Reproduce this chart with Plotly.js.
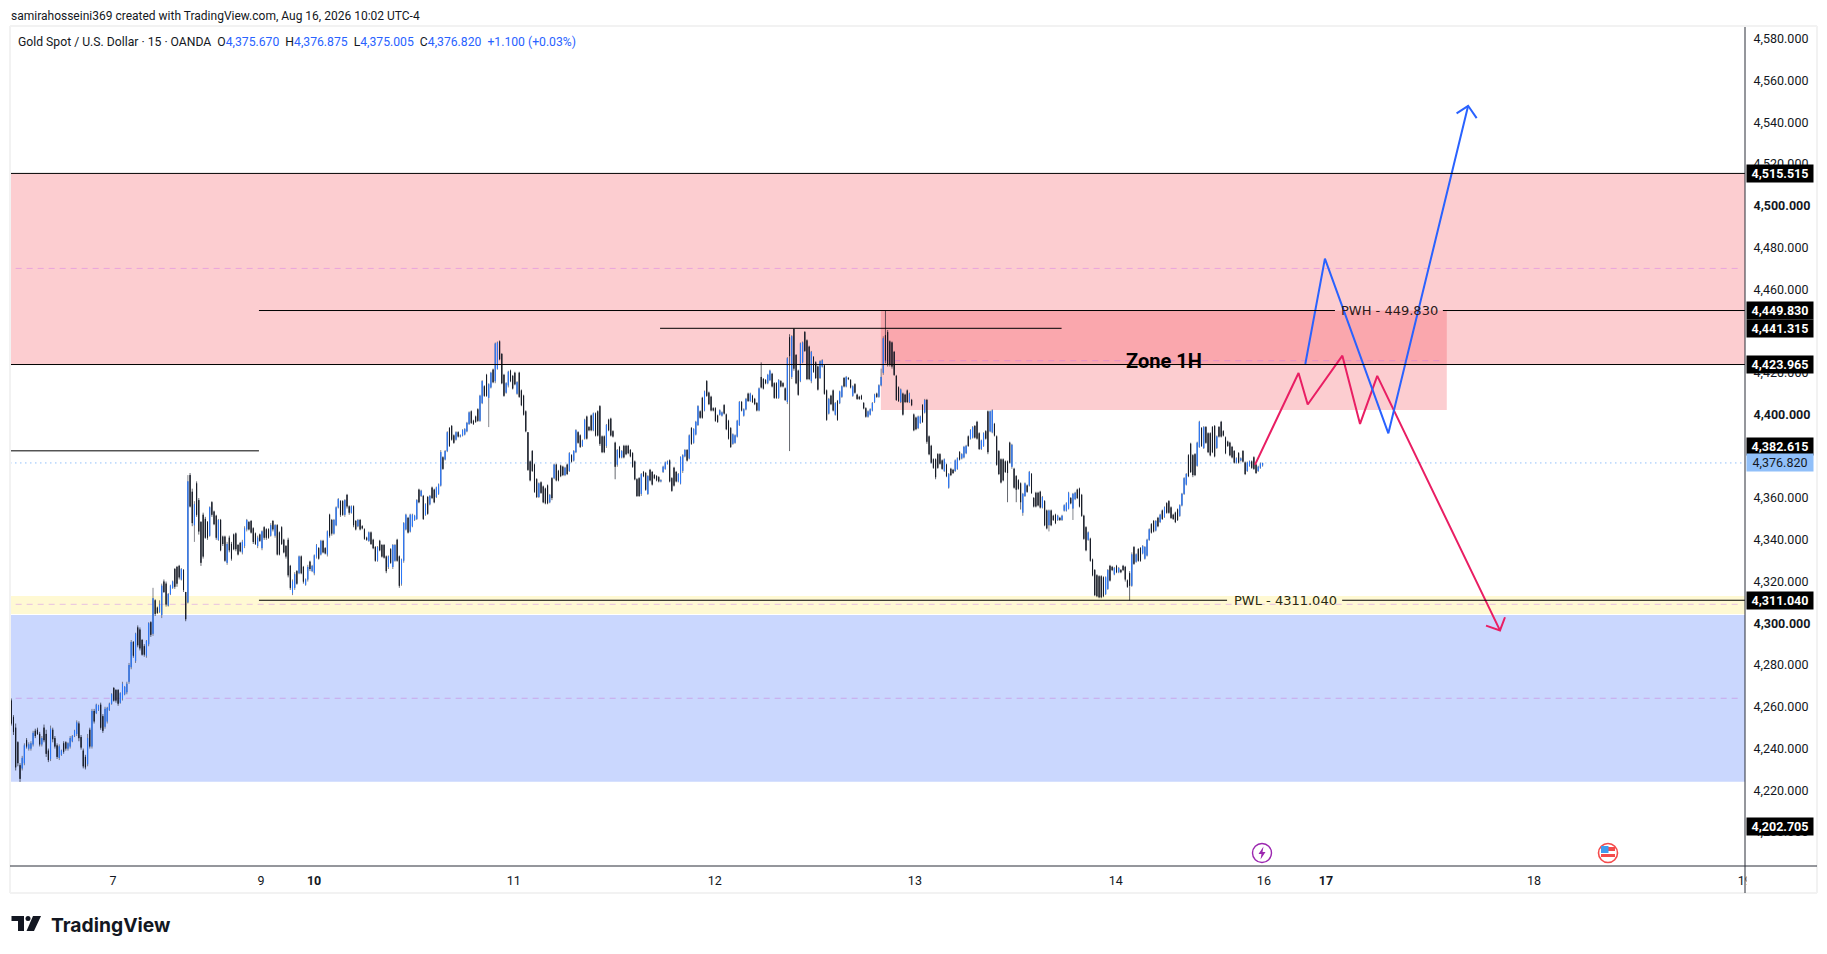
<!DOCTYPE html>
<html><head><meta charset="utf-8">
<script src="https://cdn.plot.ly/plotly-3.0.1.min.js"></script>
<style>html,body{margin:0;padding:0;background:#fff}#c{width:1827px;height:954px}</style>
</head><body><div id="c"></div>
<script>
const highs=[
4264,4256,4252,4243.5,4233,4236.5,4242.5,4245,4243,4243.5,
4248.5,4249.5,4250,4248,4246,4251.5,4249,4240,4251,4250,
4246,4242.5,4242,4239.5,4243.5,4243.5,4243,4246,4246.5,4249,
4253.5,4253,4246.5,4240,4237,4247,4250,4259,4259,4261.5,
4261,4262,4256.5,4260,4260,4262,4266.5,4269.5,4268.5,4268.5,
4267,4272,4270,4272,4281,4292,4291.5,4295.5,4299,4298,
4292.5,4290,4292,4300.5,4301,4317,4311.5,4308,4311,4319,
4321,4320,4314.5,4318.5,4320.5,4326.5,4327.5,4328,4326.5,4326,
4315,4371,4372,4364.5,4358.5,4368,4360,4349,4353,4351,
4349,4356,4358.5,4354,4352,4350,4350,4342,4342,4339,
4342,4339,4343,4343.5,4338,4339,4340,4346.5,4350,4349,
4349.5,4346,4343.5,4342,4343,4344.5,4346.5,4345.5,4345.5,4348,
4349.5,4347.5,4347.5,4344,4346.5,4340.5,4337.5,4341,4328,4321,
4324.5,4325.5,4332.5,4332.5,4327.5,4321.5,4328,4330,4328,4333,
4338,4336.5,4340,4340,4336.5,4344.5,4352.5,4350,4350,4356,
4360,4359,4359,4359.5,4362,4356.5,4356.5,4356.5,4349.5,4350,
4350,4347,4345.5,4341.5,4344,4344,4340.5,4337,4337,4340,
4338,4338,4332.5,4332.5,4336,4338,4338,4340.5,4332.5,4331,
4348.5,4352.5,4351,4352.5,4352.5,4352,4359.5,4364.5,4364,4361.5,
4357.5,4361,4361.5,4365.5,4364.5,4365.5,4367,4383,4380,4383,
4392,4394,4395,4390.5,4392,4392,4390.5,4393,4393.5,4396.5,
4401.5,4402,4397.5,4399.5,4403,4409.5,4416.5,4414,4419.5,4415,
4420.5,4422,4434.5,4435,4435.5,4429.5,4419.5,4415.5,4421,4421.5,
4419,4420.5,4416,4420.5,4412,4409.5,4402,4391.5,4378,4383,
4376.5,4369.5,4367.5,4368,4366,4365,4366.5,4362,4370,4376.5,
4376.5,4373.5,4376,4375.5,4375,4376.5,4382,4381,4383,4393,
4392,4390.5,4388,4398,4399.5,4394.5,4400,4401,4401,4402,
4404.5,4390,4390,4395.5,4398,4398.5,4392.5,4387,4383.5,4385,
4383,4385.5,4385.5,4385.5,4383.5,4382,4378,4369.5,4370,4372,
4373,4372.5,4371,4374,4373,4371.5,4371,4370.5,4369,4375.5,
4377.5,4378,4378.5,4370,4375,4373,4372,4380,4381,4383.5,
4383.5,4390.5,4394,4393.5,4397,4404.5,4402,4408.5,4411.5,4416.5,
4411,4409,4403.5,4403.5,4400,4402.5,4401.5,4405,4400.5,4397.5,
4394,4391,4390.5,4397.5,4406.5,4406.5,4403,4408,4410.5,4410.5,
4409.5,4408,4406,4413,4425,4417.5,4417,4419.5,4421.5,4420,
4415.5,4415.5,4417,4416.5,4415.5,4413,4427.5,4438.5,4438,4441.3,
4429,4421.5,4434.5,4435,4440,4436,4433,4430.5,4428,4425.5,
4423.5,4426,4426.5,4424,4412,4408,4409.5,4412,4406,4407,
4411.5,4414,4418,4418.5,4418,4417,4414,4415,4410,4409,
4409.5,4406,4403.5,4402,4403,4406,4410,4410.5,4414.5,4422,
4437.5,4449.83,4440.5,4435.5,4435,4430.5,4419,4413.5,4412.5,4410.5,
4410,4412,4410.5,4407.5,4400.5,4399,4399.5,4399.5,4405,4407.5,
4407.5,4390,4385.5,4379,4379,4381.5,4381.5,4378.5,4379,4376.5,
4372,4374.5,4374,4378.5,4379.5,4382.5,4381.5,4385,4385.5,4390,
4393,4394.5,4395,4397,4391.5,4388,4391.5,4392.5,4402,4402,
4402.5,4396,4390,4383,4379,4379,4378,4378,4387,4386,
4374.5,4371,4369,4367.5,4362.5,4367.5,4366.5,4373,4372,4360.5,
4363,4363,4363.5,4361,4359,4354.5,4354.5,4354.5,4352,4352.5,
4352,4351,4352,4357,4358,4363,4360.5,4362.5,4363,4364.5,
4365,4362,4352,4346.5,4344,4341,4331,4326,4323.5,4323,
4323,4322.5,4322.5,4326,4328,4327.5,4327,4328,4327,4326,
4328,4327.5,4321,4325,4334,4337,4333.5,4336,4336.5,4337.5,
4337,4340.5,4345.5,4348,4349.5,4349.5,4351,4352.5,4354.5,4356,
4358,4359,4356,4352.5,4353.5,4355,4357,4362.5,4370,4372,
4381,4386.5,4381,4381.5,4387,4397,4394,4394.5,4394.5,4391.5,
4391.5,4394.5,4395,4390,4394.5,4397,4392.5,4389.5,4387.5,4387,
4385,4383,4379.5,4382,4379.5,4383,4377.5,4377.5,4378,4378,
4380,4376.5,4375.5,4377,4376.875];
const lows=[
4251,4246.5,4229.5,4231.5,4224,4229.5,4232,4240,4239,4239,
4241,4245,4246.5,4241,4241,4243,4236,4233.5,4234,4243,
4240,4235,4234.5,4236.5,4237.5,4239,4239,4240,4243,4245.5,
4246,4243.5,4239.5,4230.5,4230,4231.5,4240,4240,4252,4256.5,
4258,4249,4247.5,4249.5,4252,4258,4261,4262.5,4262,4260.5,
4261.5,4263,4265.5,4266,4271,4278,4283.5,4281,4288.5,4287,
4284.5,4284,4283.5,4289,4293.5,4294,4303.5,4304.5,4305,4302.5,
4314.5,4308,4308,4313.5,4316.5,4316.5,4317.5,4321,4320.5,4315,
4301,4309.5,4355.5,4346.5,4339,4351,4342.5,4327.5,4331,4340.5,
4340,4341.5,4351,4347,4340,4339.5,4334.5,4337,4329.5,4328,
4334,4330,4335,4334.5,4332.5,4334,4333,4336,4344,4344.5,
4343,4338,4337.5,4336,4339,4335,4340,4340,4340.5,4341.5,
4344,4341,4332.5,4332.5,4337.5,4333.5,4331,4322,4316,4313.5,
4316,4318.5,4323.5,4323.5,4319,4318,4320,4325,4324.5,4323,
4331,4330.5,4332.5,4333.5,4333,4332,4341,4342,4342.5,4346.5,
4355,4351,4351.5,4351,4355,4352,4352.5,4346,4344.5,4346,
4344.5,4345,4340,4339.5,4339,4337.5,4335.5,4329.5,4329.5,4334.5,
4331.5,4331,4324,4326,4328.5,4326,4329.5,4329.5,4317,4318,
4329,4344.5,4343,4343.5,4346,4349,4349.5,4357.5,4360.5,4349.5,
4351.5,4352,4356.5,4359.5,4357.5,4360,4361.5,4365.5,4373.5,4378,
4382,4384.5,4387.5,4386,4387.5,4389,4389,4389.5,4390,4391.5,
4395,4395.5,4395,4396,4396.5,4396.5,4405,4408.5,4408.5,4394,
4412.5,4415,4415,4421.5,4426,4414.5,4408.5,4410,4413,4415.5,
4412,4414,4409.5,4408,4404,4399.5,4391.5,4373,4368,4372.5,
4362.5,4360,4360,4362,4357.5,4357,4357,4357.5,4359,4369,
4368,4368,4370,4370.5,4370.5,4371,4372.5,4377,4377.5,4381.5,
4386,4384,4384.5,4388,4388,4392,4392,4392,4389.5,4389.5,
4385,4381.5,4381.5,4384,4392,4389.5,4389,4369,4375,4379,
4379,4379,4380.5,4381,4379.5,4374.5,4368.5,4360.5,4360.5,4361,
4370,4363.5,4361.5,4368,4366,4369,4368,4367.5,4367.5,4372,
4373.5,4376,4367.5,4363,4365.5,4367.5,4367.5,4366.5,4372,4379.5,
4377.5,4378.5,4385.5,4386,4390,4394.5,4398,4398,4401.5,4408.5,
4404.5,4401.5,4401.5,4396.5,4396,4399.5,4399,4400,4392.5,4388,
4384,4385.5,4386,4389,4394.5,4401.5,4399,4402,4406,4406,
4405.5,4404.5,4401.5,4401.5,4412.5,4412,4414.5,4414.5,4416,4413,
4407.5,4407.5,4407.5,4413,4413,4406.5,4405,4382.5,4417,4421,
4414.5,4409,4415.5,4424.5,4430,4416.5,4416.5,4415,4420,4417,
4411.5,4417,4422.5,4409.5,4397,4400,4404.5,4401.5,4399.5,4397,
4405,4408,4413,4413,4416.5,4412.5,4408.5,4410,4407,4407,
4407,4402.5,4398.5,4398.5,4399.5,4401.5,4405.5,4408,4408,4413.5,
4419,4424.5,4423,4423,4422,4418.5,4406.5,4406,4405.5,4399.5,
4405.5,4405.5,4405.5,4404,4392,4392.5,4393,4395.5,4396,4400.5,
4386,4380.5,4376.5,4374,4369,4374,4376,4373.5,4372.5,4370,
4364.5,4370.5,4371.5,4372.5,4373.5,4378,4378.5,4379,4381,4384.5,
4388,4388.5,4388.5,4388,4383,4383,4384.5,4388,4381,4391.5,
4391,4389.5,4375.5,4371,4367,4368,4372,4358,4376.5,4374,
4364.5,4358,4364,4354.5,4351.5,4360.5,4362.5,4365.5,4362,4355.5,
4355.5,4356,4355,4355,4346.5,4345,4344,4346.5,4349,4347.5,
4349,4349,4349,4353.5,4353.5,4354.5,4357,4349.5,4359,4359.5,
4355.5,4351,4340,4334.5,4339.5,4329.5,4322.5,4313,4312.5,4312,
4312,4312.5,4313.5,4316,4320,4325,4323,4324,4324,4324,
4325,4320,4317,4311,4317.5,4328,4329,4329.5,4329.5,4333,
4330.5,4332,4339.5,4343,4343.5,4344,4346,4348,4349.5,4350.5,
4352.5,4352.5,4350,4349.5,4348,4349,4351,4356,4361.5,4366,
4370,4372,4370,4370.5,4375,4384,4384.5,4383.5,4386,4381.5,
4380,4381.5,4379.5,4383.5,4389,4389,4389.5,4381,4384.5,4380,
4379,4376.5,4376.5,4376.5,4377.5,4377,4371,4372.5,4375,4374,
4373.5,4371.5,4372.5,4374,4375.005];
const opens=[
4263,4255,4250,4243,4232,4230.5,4233,4244,4240,4240,
4242,4248.5,4249,4247,4242,4250,4247,4239,4235,4249,
4245,4241.5,4235.5,4237,4242.5,4243,4240,4241,4243.5,4246,
4247,4252,4245.5,4239,4236,4232.5,4249,4241,4258,4257,
4258.5,4261,4255.5,4250.5,4253,4258.5,4261.5,4269,4268,4268,
4262,4264,4266,4267,4272,4279,4291,4282,4298,4297,
4292,4289,4284.5,4290,4300.5,4295,4311,4307.5,4305.5,4304,
4320,4319,4308.5,4314,4317,4326,4327,4327.5,4321,4325.5,
4315,4310,4371,4363,4347,4367,4359,4348.5,4352,4350,
4348.5,4342,4358,4353.5,4351.5,4340,4349.5,4341.5,4341.5,4329,
4341,4338,4342.5,4343,4337.5,4338.5,4334,4337,4345,4348.5,
4349,4345.5,4343,4337,4342.5,4336,4346,4345,4345,4342,
4349,4342,4347,4343.5,4346,4340,4337,4340,4327.5,4314.5,
4317,4325,4324,4332,4327,4318.5,4321,4329.5,4325,4324,
4332,4336,4333,4339.5,4336,4333,4352,4349.5,4343,4347,
4355.5,4358.5,4358.5,4352,4361.5,4356,4353,4356,4349,4346.5,
4349.5,4346.5,4345,4341,4339.5,4343.5,4340,4336.5,4330,4339.5,
4337.5,4337.5,4332,4327,4335.5,4327,4330,4340,4332,4319,
4330,4345,4350.5,4344,4346.5,4349.5,4350,4364,4361,4361,
4352,4360.5,4357,4365,4364,4360.5,4362,4366,4379.5,4378.5,
4382.5,4393.5,4394.5,4390,4388,4391.5,4389.5,4390,4390.5,4392,
4395.5,4401.5,4397,4399,4402.5,4397,4405.5,4413.5,4419,4408,
4413,4421.5,4416,4422,4435,4429,4419,4410.5,4414,4421,
4418.5,4420,4410,4420,4411.5,4409,4401.5,4391.5,4377.5,4382.5,
4376,4369,4360.5,4367.5,4365.5,4364.5,4366,4358,4369.5,4369.5,
4376,4373,4375.5,4375,4371,4376,4373,4380.5,4378,4382,
4391.5,4390,4385,4388.5,4399,4394,4399.5,4392.5,4400.5,4401.5,
4404,4389.5,4389.5,4385,4397.5,4398,4392,4386.5,4376,4384.5,
4379.5,4385,4385,4385,4383,4381.5,4377.5,4369,4369.5,4362,
4372.5,4372,4362,4373.5,4372.5,4371,4370.5,4370,4368,4372.5,
4374,4376.5,4378,4369.5,4374.5,4372.5,4368,4367,4373,4380,
4383,4379,4393.5,4386.5,4390.5,4395,4401.5,4408,4402,4416,
4410.5,4408.5,4403,4403,4399.5,4400,4399.5,4404.5,4400,4397,
4393.5,4386,4386.5,4389.5,4395,4406,4399.5,4402.5,4410,4406.5,
4409,4407.5,4405.5,4402,4418,4417,4416.5,4415,4416.5,4419.5,
4415,4415,4408,4416,4415,4412.5,4406,4437,4418,4441,
4428.5,4421,4416,4425,4439.5,4435.5,4432.5,4416,4427.5,4425,
4423,4417.5,4423,4423.5,4411.5,4400.5,4409,4411.5,4400,4406.5,
4405.5,4408.5,4417.5,4413.5,4417.5,4416.5,4409,4414.5,4409.5,4408.5,
4409,4405.5,4403,4399,4400,4402,4406,4410,4408.5,4414,
4420,4438,4439.5,4435,4434.5,4430,4418.5,4413,4406,4410,
4409.5,4411.5,4406,4407,4400,4398.5,4393.5,4396,4404.5,4401,
4407,4389.5,4385,4378.5,4378.5,4381,4381,4378,4373,4376,
4365,4374,4373.5,4373,4374,4382,4379,4379.5,4381.5,4389.5,
4388.5,4389,4394.5,4396.5,4391,4383.5,4385,4392,4401.5,4392,
4391.5,4395.5,4389.5,4382.5,4378.5,4378.5,4377.5,4377.5,4386.5,4375,
4374,4370.5,4368.5,4367,4353,4361,4366,4366,4371.5,4360,
4362.5,4362.5,4363,4355.5,4358.5,4354,4347,4354,4351.5,4352,
4349.5,4350.5,4349.5,4354,4354,4355,4360,4355,4359.5,4364,
4364.5,4361.5,4351.5,4346,4340,4340.5,4330.5,4325.5,4323,4322.5,
4322.5,4322,4314,4316.5,4327.5,4327,4323.5,4327.5,4324.5,4325.5,
4327.5,4327,4320.5,4324,4318,4336.5,4329.5,4335.5,4336,4333.5,
4331,4332.5,4340,4347.5,4349,4344.5,4350.5,4348.5,4354,4351,
4357.5,4358.5,4355.5,4352,4353,4354.5,4351.5,4356.5,4362,4366.5,
4380.5,4386,4380.5,4381,4375.5,4384.5,4393.5,4384,4394,4391,
4391,4394,4394.5,4384,4394,4396.5,4392,4389,4387,4386.5,
4384.5,4382.5,4377,4381.5,4378,4382.5,4377,4373,4375.5,4377.5,
4379.5,4376,4373,4374.5,4375.67];
const closes=[
4252,4248,4231,4233,4225.5,4235.5,4241.5,4241,4242,4242.5,
4247.5,4246,4247,4242,4245,4244,4237.5,4234.5,4249.5,4244.5,
4241,4236,4241,4239,4238.5,4240,4242.5,4245,4246,4248.5,
4252.5,4245,4240.5,4231.5,4231,4245,4241,4258,4253,4261,
4260.5,4250,4248.5,4259,4259.5,4261.5,4266,4263,4263,4261.5,
4266.5,4271,4269.5,4271,4280,4291,4284.5,4295,4289.5,4288,
4285,4285,4291.5,4300,4294.5,4312,4304.5,4305,4309,4318,
4315,4309,4314,4318,4320,4317.5,4319,4322,4326,4316,
4302,4368,4356,4348,4357,4352,4344,4329,4332,4341,
4341,4355.5,4352,4347.5,4341,4349.5,4335,4338,4330,4338,
4335,4331,4335.5,4335.5,4333,4334.5,4339,4345.5,4349.5,4345,
4343.5,4339,4338,4341,4339.5,4344,4341,4341,4341,4347,
4345,4347,4333,4333,4338,4334,4332,4323,4317,4320,
4323.5,4319,4332,4324,4320,4321,4327,4326,4327.5,4332.5,
4337.5,4331,4339.5,4334,4333.5,4344,4342,4343,4349.5,4355.5,
4359.5,4352,4352,4359,4356,4353,4356,4347,4345,4349.5,
4345,4345.5,4340.5,4340,4343.5,4338,4336,4330,4336.5,4335,
4332,4331.5,4325,4332,4329,4337.5,4337.5,4330,4318,4330.5,
4348,4352,4343.5,4352,4352,4351.5,4359,4358,4363.5,4350,
4357,4352.5,4361,4360,4358,4365,4366.5,4382,4374,4382.5,
4391.5,4385,4388,4386.5,4391.5,4389.5,4390,4392.5,4393,4396,
4401,4396,4395.5,4396.5,4397,4409,4416,4409,4409,4414.5,
4420,4415.5,4434,4434.5,4426.5,4415,4409,4415,4420.5,4416,
4412.5,4414.5,4415.5,4408.5,4404.5,4400,4392,4373.5,4368.5,4373,
4363,4360.5,4367,4362.5,4358,4357.5,4357.5,4361.5,4360,4376,
4368.5,4368.5,4370.5,4371,4374.5,4371.5,4381.5,4377.5,4382.5,4392.5,
4386.5,4384.5,4387.5,4397.5,4388.5,4392.5,4392.5,4400.5,4390,4390,
4386,4382,4382,4395,4392.5,4390,4389.5,4375,4383,4379.5,
4382.5,4379.5,4381,4381.5,4380,4375,4369,4361,4361,4371.5,
4370.5,4364,4370.5,4368.5,4366.5,4369.5,4368.5,4368,4368.5,4375,
4377,4377.5,4368,4363.5,4366,4368,4371.5,4379.5,4380.5,4383,
4378,4390,4386,4393,4396.5,4404,4398.5,4398.5,4411,4409,
4405,4402,4402,4397,4396.5,4402,4401,4400.5,4393,4388.5,
4384.5,4390.5,4390,4397,4406,4402,4402.5,4407.5,4406.5,4410,
4406,4405,4402,4412.5,4413,4412.5,4415,4419,4421,4413.5,
4408,4408,4416.5,4413.5,4413.5,4407,4427,4428,4437.5,4422,
4415,4409.5,4434,4434.5,4430.5,4417,4417,4430,4420.5,4417.5,
4412,4425.5,4426,4410,4397.5,4407.5,4405,4402,4405.5,4397.5,
4411,4413.5,4413.5,4418,4417,4413,4413.5,4410.5,4407.5,4407.5,
4407.5,4403,4399,4401.5,4402.5,4405.5,4409.5,4408.5,4414,4418,
4436.5,4426,4424,4424,4423,4419,4407,4406.5,4412,4400,
4406,4406,4410,4404.5,4392.5,4393,4399,4399,4396.5,4407,
4387,4381,4377,4374.5,4370,4374.5,4376.5,4374,4378.5,4370.5,
4371.5,4371,4372,4378,4379,4378.5,4381,4384.5,4385,4385,
4392.5,4394,4389,4388.5,4383.5,4387.5,4391,4388.5,4382,4401.5,
4402,4390,4376,4371.5,4367.5,4368.5,4372.5,4372,4377,4385.5,
4365,4364,4364.5,4358,4362,4367,4363,4372.5,4362.5,4356,
4356,4356.5,4355.5,4360.5,4347,4345.5,4354,4347,4349.5,4348,
4351.5,4349.5,4351.5,4356.5,4357.5,4362.5,4357.5,4362,4362.5,4360,
4356,4351.5,4340.5,4335,4343.5,4330,4323,4313.5,4313,4312.5,
4312.5,4313,4322,4325.5,4320.5,4325.5,4326.5,4324.5,4326.5,4324.5,
4325.5,4321,4317.5,4318,4333,4328.5,4333,4330,4330,4337,
4336.5,4340,4345,4343.5,4344,4349,4346.5,4352,4350,4355.5,
4353,4353,4350.5,4350,4348.5,4349.5,4356.5,4362,4369.5,4371.5,
4370.5,4372.5,4371,4371,4386.5,4396.5,4385,4394,4386.5,4382,
4380.5,4382,4380,4389.5,4389.5,4389.5,4390,4381.5,4385,4380.5,
4379.5,4377,4379,4377,4379,4377.5,4371.5,4377,4377.5,4374.5,
4374,4372,4375,4376.5,4376.82];

const yTickVals=[4200,4220,4240,4260,4280,4300,4320,4340,4360,4380,4400,4420,4440,4460,4480,4500,4520,4540,4560,4580];
const yTickText=['4,200.000','4,220.000','4,240.000','4,260.000','4,280.000','<b>4,300.000</b>','4,320.000','4,340.000','4,360.000','4,380.000','<b>4,400.000</b>','4,420.000','4,440.000','4,460.000','4,480.000','<b>4,500.000</b>','4,520.000','4,540.000','4,560.000','4,580.000'];
const xTickVals=[46.7,114.5,138.9,230.5,322.7,414.5,506.7,574.6,603.1,698.5,795.2];
const xTickText=['7','9','<b>10</b>','11','12','13','14','16','<b>17</b>','18','19'];

const blueTrendX=[593.6,602.6,631.7,668.3];
const blueTrendY=[4424.2,4474.7,4391,4547.9];
const blueHeadX=[663,668.3,672.2];
const blueHeadY=[4544.3,4547.9,4542];
const redTrendX=[570.5,590.5,594.7,610.6,618.7,626.6,682.9];
const redTrendY=[4375.9,4419.9,4404.8,4428.2,4395.5,4418.5,4296.6];
const redHeadX=[676.5,682.9,685.2];
const redHeadY=[4298.9,4296.6,4302.9];

const priceTags=[[4515.515,0],[4449.83,0],[4441.315,0],[4423.965,0],[4382.615,-4.5],[4311.04,0],[4202.705,0]];
const lastPrice=4376.82;

const W=1827,H=954,L=10,R=1745,T=27,B=866;
const px=x=>(x-L)/(R-L), py=y=>(B-y)/(B-T);
const XR=[-0.6,795.3];
const band=(x0,x1,y0,y1,c)=>({type:'rect',layer:'below',xref:'x',yref:'y',x0,x1,y0,y1,fillcolor:c,line:{width:0}});
const lvl=(x0,x1,y,c,w,d,layer)=>({type:'line',layer:layer||'above',xref:'x',yref:'y',x0,x1,y0:y,y1:y,line:{color:c,width:w||1,dash:d||'solid'}});
const chrome=(x0,y0,x1,y1,c,w)=>({type:'line',xref:'paper',yref:'paper',x0:px(x0),x1:px(x1),y0:py(y0),y1:py(y1),line:{color:c,width:w}});
const poly=(pts,fill)=>({type:'path',xref:'paper',yref:'paper',path:'M'+pts.map(p=>px(p[0])+' '+py(p[1])).join('L')+'Z',fillcolor:fill,line:{width:0}});
const disc=(cx,cy,r,fill,stroke,w)=>({type:'circle',xref:'paper',yref:'paper',x0:px(cx-r),x1:px(cx+r),y0:py(cy+r),y1:py(cy-r),fillcolor:fill,line:{color:stroke,width:w}});

const shapes=[
 band(XR[0],XR[1],4423.965,4515.515,'rgba(242,54,69,0.25)'),
 band(398.9,658.5,4402.2,4449.83,'rgba(242,54,69,0.25)'),
 band(XR[0],XR[1],4304.5,4313.1,'#FFF9D3'),
 band(XR[0],XR[1],4224.1,4304,'#CAD7FE'),
 lvl(2,XR[1]-2,4470,'#E9A3DC',1,'6px,5px','below'),
 lvl(400,657,4425.8,'#E08FCB',1,'6px,5px','below'),
 lvl(2,XR[1]-2,4309.1,'#E8C0E2',1,'6px,5px','below'),
 lvl(2,XR[1]-2,4264.1,'#C9A6EA',1,'6px,5px','below'),
 lvl(XR[0],XR[1],lastPrice,'#90BFF9',1,'1.5px,3.5px','below'),
 lvl(XR[0],XR[1],4515.515,'#000'),
 lvl(XR[0],XR[1],4423.965,'#000'),
 lvl(113.6,607.2,4449.83,'#000'),
 lvl(656.7,XR[1],4449.83,'#000'),
 lvl(297.6,481.8,4441.315,'#000'),
 lvl(XR[0],113.6,4382.615,'#000'),
 lvl(113.6,557.7,4311.04,'#000'),
 lvl(610.5,XR[1],4311.04,'#000'),
 chrome(10,26,1817,26,'#f2f2f2',2),
 chrome(10,893,1817,893,'#f2f2f2',2),
 chrome(10,26,10,893,'#f2f2f2',2),
 chrome(1817,26,1817,893,'#f2f2f2',2),
 chrome(1745,27,1745,893,'#2a2e39',1),
 chrome(10,866,1817,866,'#2a2e39',1),
 disc(1262,853,9.5,'#fff','#9C27B0',1.4),
 poly([[1263.5,846.5],[1258.5,854],[1261.5,854],[1260.5,859.5],[1265.5,852],[1262.5,852]],'#9C27B0'),
 disc(1608,853,9.5,'#fff','#F44B4B',1.6),
 poly([[1601,854],[1615,854],[1615,857],[1601,857]],'#F44B4B'),
 poly([[1601,847],[1615,847],[1615,851],[1601,851]],'#F44B4B'),
 poly([[1601,846],[1608.5,846],[1608.5,853],[1601,853]],'#3F9BEF'),
 poly([[11.5,916],[24,916],[24,931],[18,931],[18,921],[11.5,921]],'#131722'),
 disc(28,918.5,2.5,'#131722','#131722',0),
 poly([[33,916],[41,916],[34,931],[26.5,931]],'#131722')
];

const tag=(v,dy,bg,fc,b)=>({xref:'paper',yref:'y',x:1,y:v,xanchor:'left',yanchor:'middle',xshift:0.5,yshift:-dy,
 text:b?'<b>'+v.toLocaleString('en-US',{minimumFractionDigits:3})+'</b>':v.toLocaleString('en-US',{minimumFractionDigits:3}),
 showarrow:false,bgcolor:bg,width:66,height:17,borderpad:0,align:'center',font:{family:'Roboto',size:12.5,color:fc}});
const pxNote=(x,y,text,size,color,fam,anchor)=>({xref:'paper',yref:'paper',x:px(x),y:py(y),xanchor:anchor||'left',yanchor:'middle',text,showarrow:false,font:{family:fam||'Roboto',size,color}});
const blue=s=>'<span style="color:#2962FF">'+s+'</span>';
const annotations=[
 ...priceTags.map(p=>tag(p[0],p[1],'#000','#fff',true)),
 tag(lastPrice,0,'#90BFF9','#131722',false),
 pxNote(9,16,'samirahosseini369 created with TradingView.com, Aug 16, 2026 10:02 UTC-4',12,'#131722'),
 pxNote(15.5,42,'Gold Spot / U.S. Dollar · 15 · OANDA  O'+blue('4,375.670')+'  H'+blue('4,376.875')+'  L'+blue('4,375.005')+'  C'+blue('4,376.820')+'  '+blue('+1.100 (+0.03%)'),12.2,'#131722'),
 pxNote(49,925,'<b>TradingView</b>',19.3,'#131722','Inter'),
 {xref:'x',yref:'y',x:528.8,y:4425.5,text:'<b>Zone 1H</b>',showarrow:false,font:{family:'Roboto',size:20,color:'#000'}},
 {xref:'x',yref:'y',x:632,y:4449.83,text:'PWH - 449.830',showarrow:false,font:{family:'DejaVu Sans',size:13,color:'#2a1a1a'}},
 {xref:'x',yref:'y',x:584.3,y:4311,text:'PWL - 4311.040',showarrow:false,font:{family:'DejaVu Sans',size:13,color:'#2a2a10'}},
 {xref:'paper',yref:'paper',x:px(1746),y:py(880),xanchor:'left',yanchor:'middle',text:' ',width:14,height:16,showarrow:false,bgcolor:'#fff',borderpad:0}
];

const xs=highs.map((_,i)=>i);
const bodyHi=opens.map((o,i)=>Math.max(o,closes[i]));
const bodyLo=opens.map((o,i)=>Math.min(o,closes[i]));
const traces=[
 {type:'candlestick',name:'wicks',x:xs,open:opens,high:highs,low:lows,close:closes,whiskerwidth:0,hoverinfo:'skip',
  increasing:{line:{color:'#434651',width:0.65},fillcolor:'#434651'},decreasing:{line:{color:'#131722',width:0.65},fillcolor:'#131722'}},
 {type:'candlestick',name:'bodies',x:xs,open:opens,high:bodyHi,low:bodyLo,close:closes,whiskerwidth:0,hoverinfo:'skip',
  increasing:{line:{color:'#2979FF',width:0.8},fillcolor:'#2979FF'},decreasing:{line:{color:'#131722',width:0.65},fillcolor:'#131722'}},
 {type:'scatter',mode:'lines',x:redTrendX,y:redTrendY,line:{color:'#E91E63',width:2},hoverinfo:'skip'},
 {type:'scatter',mode:'lines',x:redHeadX,y:redHeadY,line:{color:'#E91E63',width:2},hoverinfo:'skip'},
 {type:'scatter',mode:'lines',x:blueTrendX,y:blueTrendY,line:{color:'#2962FF',width:2},hoverinfo:'skip'},
 {type:'scatter',mode:'lines',x:blueHeadX,y:blueHeadY,line:{color:'#2962FF',width:2},hoverinfo:'skip'}
];
const layout={
 width:W,height:H,margin:{l:L,r:W-R,t:T,b:H-B,pad:0},paper_bgcolor:'#fff',plot_bgcolor:'#fff',showlegend:false,boxgap:0.98,
 font:{family:'Roboto',size:12.5,color:'#131722'},
 xaxis:{type:'linear',range:XR,rangeslider:{visible:false},showgrid:false,zeroline:false,showline:false,tickmode:'array',tickvals:xTickVals,ticktext:xTickText,ticks:'outside',ticklen:3,tickcolor:'rgba(0,0,0,0)',tickangle:0,tickfont:{family:'Roboto',size:12.5,color:'#131722'}},
 yaxis:{type:'linear',side:'right',range:[4183.74,4585.65],showgrid:false,zeroline:false,showline:false,tickmode:'array',tickvals:yTickVals,ticktext:yTickText,ticks:'outside',ticklen:5,tickcolor:'rgba(0,0,0,0)',tickfont:{family:'Roboto',size:12.5,color:'#131722'}},
 shapes,annotations
};
Plotly.newPlot('c',traces,layout,{displayModeBar:false,staticPlot:true});
</script></body></html>
